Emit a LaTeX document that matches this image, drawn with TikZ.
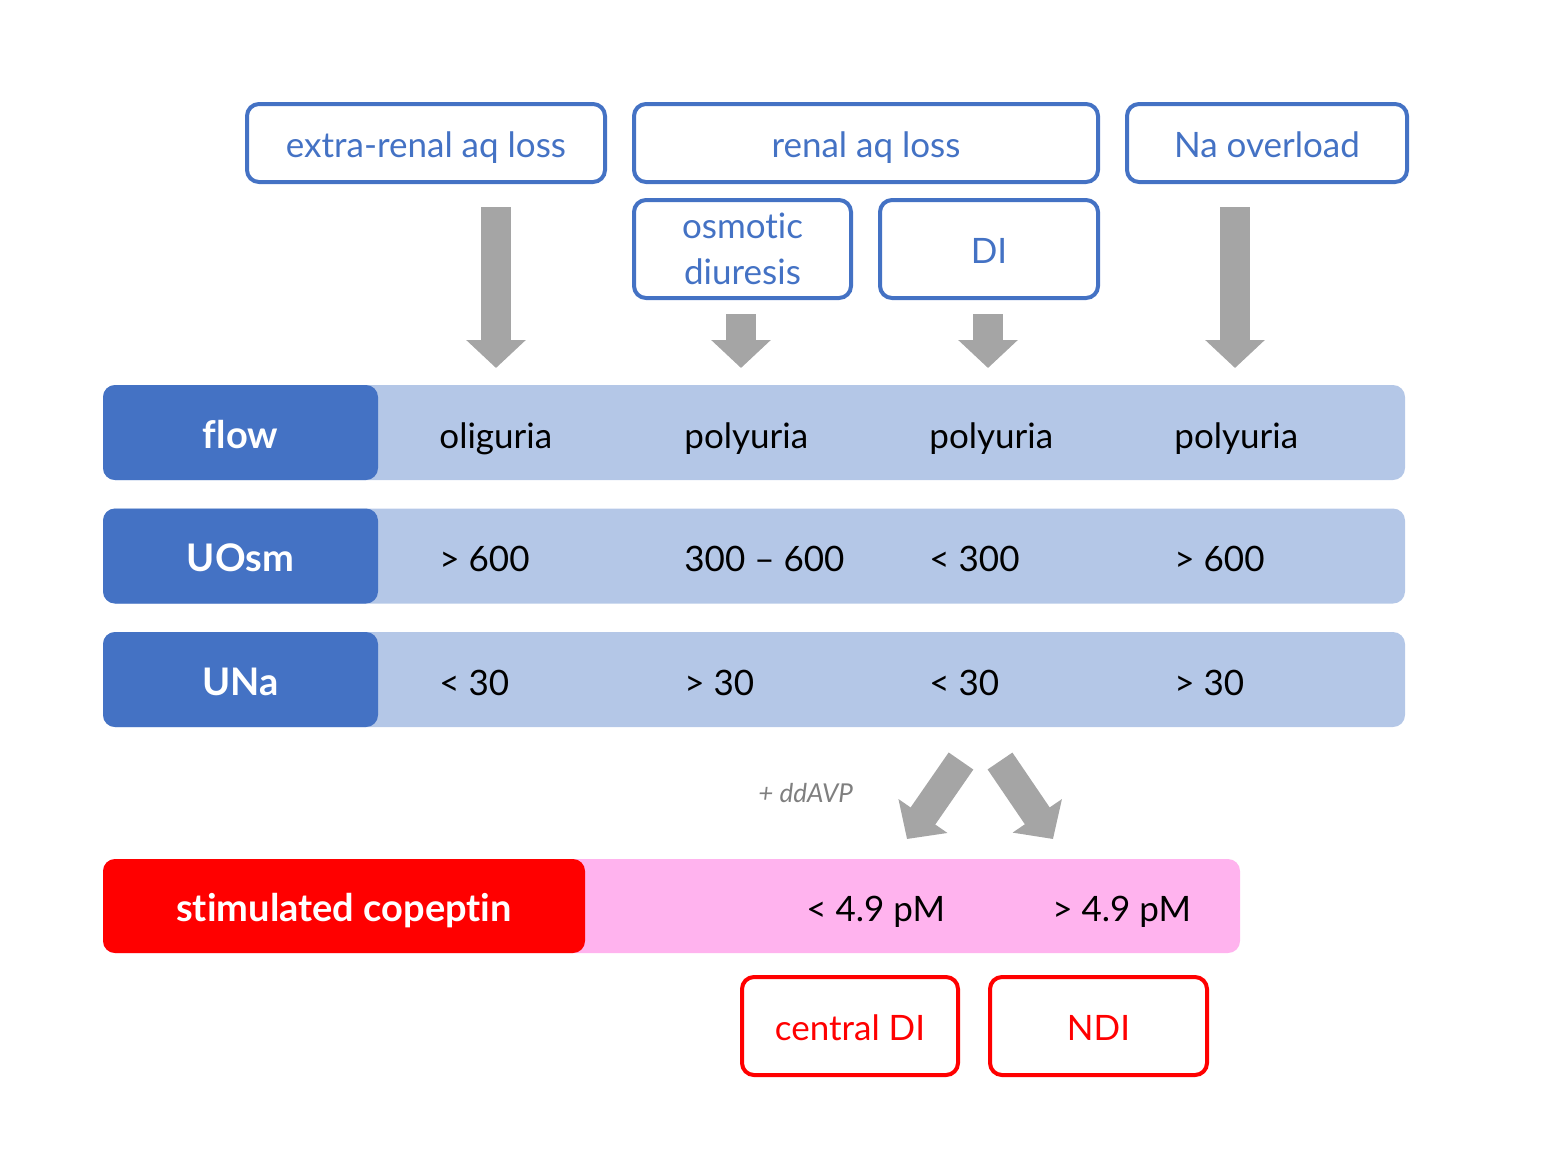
\documentclass[tikz,border=0pt]{standalone}
\usepackage{fontspec}
\setmainfont{Lato}[Ligatures=NoCommon]
\usetikzlibrary{arrows.meta}
\definecolor{cblue}{HTML}{4472C4}
\definecolor{clight}{HTML}{B4C7E7}
\definecolor{cgray}{HTML}{A5A5A5}
\definecolor{cred}{HTML}{FF0000}
\definecolor{cpink}{HTML}{FFB3EE}
\definecolor{ctxtgray}{HTML}{7F7F7F}
\tikzset{
  bluebox/.style={draw=cblue, line width=2pt, rounded corners=6pt, text=cblue, inner sep=0pt, align=center,
    font=\fontsize{17.5}{23}\selectfont},
  oneline/.style={text height=15pt, text depth=1pt},
  redbox/.style={draw=cred, line width=2pt, rounded corners=6pt, text=cred, inner sep=0pt, align=center,
    font=\fontsize{17.5}{21}\selectfont, text height=15pt, text depth=1pt},
  bar/.style={fill=clight, rounded corners=6pt, inner sep=0pt, minimum width=651pt, minimum height=47.5pt},
  label/.style={fill=cblue, rounded corners=6pt, inner sep=0pt, minimum width=137.5pt, minimum height=47.5pt},
  labeltext/.style={text=white, inner sep=0pt, anchor=base, font=\fontsize{19}{22}\selectfont\bfseries},
  valtext/.style={text=black, inner sep=0pt, anchor=base west, font=\fontsize{17.5}{21}\selectfont},
  blockarrow/.style={draw=cgray, line width=15pt, -{Triangle[width=29pt,length=14pt]}},
}
\begin{document}
\begin{tikzpicture}[x=0.5pt,y=-0.5pt]
\useasboundingbox (0,0) rectangle (1557,1168);
% top boxes
\node[bluebox, oneline, minimum width=179pt, minimum height=39pt] (ext) at (426,143) {extra-renal aq loss};
\node[bluebox, oneline, minimum width=232pt, minimum height=39pt] (ren) at (866,143) {renal aq loss};
\node[bluebox, oneline, minimum width=140pt, minimum height=39pt] (na) at (1267,143) {Na overload};
\node[bluebox, minimum width=108.5pt, minimum height=49pt] (osm) at (742.5,249) {osmot\kern0pt ic\\diuresis};
\node[bluebox, oneline, minimum width=109pt, minimum height=49pt] (di) at (989,249) {DI};
% rows
\node[bar] (flowbar) at (754,432.5) {};
\node[label] (flowlab) at (240.5,432.5) {};
\node[labeltext] (flowt) at (240.5,448) {f\kern0pt low};
\node[valtext] (f1) at (439,448) {oliguria};
\node[valtext] (f2) at (684,448) {polyuria};
\node[valtext] (f3) at (929,448) {polyuria};
\node[valtext] (f4) at (1174,448) {polyuria};
\node[bar] (uosmbar) at (754,556) {};
\node[label] (uosmlab) at (240.5,556) {};
\node[labeltext] (uosmt) at (240.5,571.5) {UOsm};
\node[valtext] (o1) at (439,571.5) {> 600};
\node[valtext] (o2) at (684,571.5) {300 – 600};
\node[valtext] (o3) at (929,571.5) {< 300};
\node[valtext] (o4) at (1174,571.5) {> 600};
\node[bar] (unabar) at (754,679.5) {};
\node[label] (unalab) at (240.5,679.5) {};
\node[labeltext] (unat) at (240.5,695) {UNa};
\node[valtext] (n1) at (439,695) {< 30};
\node[valtext] (n2) at (684,695) {> 30};
\node[valtext] (n3) at (929,695) {< 30};
\node[valtext] (n4) at (1174,695) {> 30};
% copeptin row
\node[bar, fill=cpink, minimum width=568.5pt, minimum height=47pt] (copbar) at (671.5,906) {};
\node[label, fill=cred, minimum width=241pt, minimum height=47pt] (coplab) at (344,906) {};
\node[labeltext] (copt) at (344,921.5) {st\kern0pt imulated copept\kern0pt in};
\node[valtext] (c1) at (806,921.5) {< 4.9 pM};
\node[valtext] (c2) at (1052,921.5) {> 4.9 pM};
% bottom boxes
\node[redbox, minimum width=108pt, minimum height=49pt] (cdi) at (850,1026) {central DI};
\node[redbox, minimum width=108.5pt, minimum height=49pt] (ndi) at (1098.5,1026) {NDI};
% ddAVP
\node[text=ctxtgray, inner sep=0pt, anchor=base west, font=\fontsize{13}{15}\selectfont\itshape] (ddavp) at (758,802) {+ ddAVP};
% arrow coordinates
\coordinate (a1s) at (496,207); \coordinate (a1e) at (496,368);
\coordinate (a2s) at (741,314); \coordinate (a2e) at (741,368);
\coordinate (a3s) at (988,314); \coordinate (a3e) at (988,368);
\coordinate (a4s) at (1235,207); \coordinate (a4e) at (1235,368);
\coordinate (d1s) at (961,761); \coordinate (d1e) at (907,839);
\coordinate (d2s) at (1000,761); \coordinate (d2e) at (1053,839);
\draw[blockarrow] (a1s) -- (a1e);
\draw[blockarrow] (a2s) -- (a2e);
\draw[blockarrow] (a3s) -- (a3e);
\draw[blockarrow] (a4s) -- (a4e);
\draw[blockarrow] (d1s) -- (d1e);
\draw[blockarrow] (d2s) -- (d2e);
\end{tikzpicture}
\end{document}
